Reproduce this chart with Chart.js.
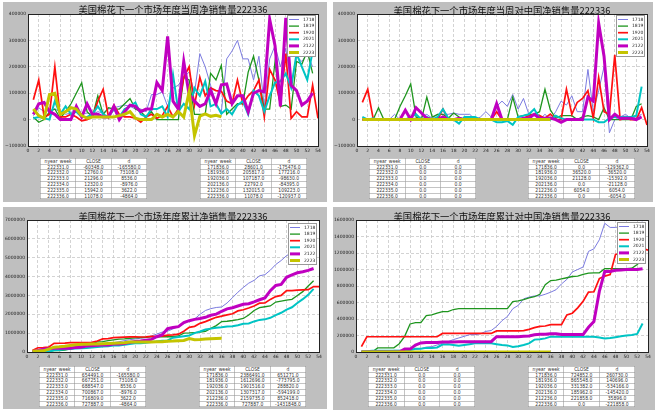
<!DOCTYPE html>
<html>
<head>
<meta charset="utf-8">
<script src="https://cdn.jsdelivr.net/npm/chart.js@4"></script>
<style>
body{margin:0;background:#fff;width:659px;height:415px;position:relative;overflow:hidden}
.panel{position:absolute;background:#bfbfbf}
canvas{position:absolute}
.title{position:absolute;width:320px;text-align:center;font:9.3px/12px "Noto Sans CJK SC",sans-serif;color:#111;white-space:nowrap}
.tbl{position:absolute;border-collapse:collapse;transform:scale(0.5);transform-origin:0 0;background:#fff;width:214px}
.tbl td{border:1px solid #888;font:9px "DejaVu Sans",sans-serif;color:#333;text-align:center;height:10.6px;line-height:10px;padding:0;width:71px}
</style>
</head>
<body>
<div class="panel" style="left:3px;top:2px;width:324px;height:200px"></div>
<div class="panel" style="left:333px;top:2px;width:320px;height:200px"></div>
<div class="panel" style="left:3px;top:207px;width:324px;height:202px"></div>
<div class="panel" style="left:333px;top:207px;width:322px;height:203px"></div>

<canvas id="c1" width="330" height="156" style="left:0;top:0"></canvas>
<canvas id="c2" width="329" height="156" style="left:330px;top:0"></canvas>
<canvas id="c3" width="330" height="157" style="left:0;top:205px"></canvas>
<canvas id="c4" width="329" height="157" style="left:330px;top:205px"></canvas>

<div class="title" style="left:13px;top:3px">美国棉花下一个市场年度当周净销售量222336</div>
<div class="title" style="left:342px;top:4px">美国棉花下一个市场年度当周对中国净销售量222336</div>
<div class="title" style="left:13px;top:210px">美国棉花下一个市场年度累计净销售量222336</div>
<div class="title" style="left:342px;top:210px">美国棉花下一个市场年度累计对中国净销售量222336</div>

<script>
const weeks = [1,2,3,4,5,6,7,8,9,10,11,12,13,14,15,16,17,18,19,20,21,22,23,24,25,26,27,28,29,30,31,32,33,34,35,36,37,38,39,40,41,42,43,44,45,46,47,48,49,50,51,52,53,54]
const years = ['1718', '1819', '1920', '2021', '2122', '2223']

// 当周净销售量
const w1718 = [15000,45000,30000,35000,40000,30000,20000,25000,50000,20000, 25000,20000,30000,25000,40000,45000,50000,55000,50000,40000, 40000,30000,95000,95000,105000,50000,120000,130000,160000,180000, 100000,250000,200000,130000,60000,28601,230000,260000,300000,230000, 230000,150000,240000,50000,230000,280000,200000,270000,130000,240000, 220000,250000,200000]
const w1819 = [10000,-10000,0,30000,40000,5000,30000,60000,100000,140000, 30000,10000,90000,20000,45000,40000,40000,60000,80000,40000, 30000,10000,30000,0,0,0,0,0,160000,150000, 20000,20000,20000,175000,150000,205817,20000,40000,60000,60000, 180000,240000,150000,40000,40000,220000,50000,55000,40000,220000, 210000,260000,175000]
const w1920 = [75000,150000,10000,20000,200000,10000,10000,20000,10000,-5000, 0,10000,70000,115000,10000,55000,20000,10000,10000,5000, -10000,10000,20000,5000,15000,50000,10000,40000,160000,200000, 55000,160000,90000,120000,110000,107187,70000,60000,150000,60000, 90000,110000,150000,10000,190000,150000,60000,250000,5000,30000, 10000,10000,130000,5000]
const w2021 = [5000,10000,5000,0,70000,20000,50000,20000,30000,10000, 10000,20000,50000,20000,10000,40000,10000,40000,50000,65000, 20000,10000,40000,40000,50000,10000,170000,30000,60000,40000, 120000,90000,145000,50000,60000,22792,40000,20000,55000,70000, 20000,110000,90000,30000,90000,140000,145000,175000,120000,250000, 200000,150000,260000]
const w2122 = [20000,60000,65000,30000,20000,0,0,0,50000,10000, 60000,20000,20000,10000,10000,50000,0,30000,55000,50000, 30000,40000,40000,140000,110000,315000,70000,40000,220000,95000, 70000,50000,60000,110000,60000,132015,135000,60000,90000,90000, 30000,100000,110000,105000,380000,280000,50000,385000,130000,110000, 55000,70000,100000]
const w2223 = [40000,15000,5000,95000,100000,20000,30000,45000,40000,15000, 5000,10000,10000,10000,10000,10000,15000,20000,30000,5000, 0,0,0,20000,10000,20000,10000,30000,10000,105232, -60348,12760,21296,12320,15942,11078]

// 当周对中国净销售量
const c1718 = [0,0,0,0,0,0,20000,0,0,5000, 5000,10000,20000,5000,20000,20000,20000,25000,20000,20000, 20000,0,10000,30000,10000,50000,70000,50000,95000,40000, 80000,20000,15000,0,20000,0,30000,70000,55000,90000, 30000,30000,190000,30000,110000,200000,-50000,0,10000,20000, 5000,10000,20000]
const c1819 = [0,0,0,45000,0,0,0,50000,90000,135000, 10000,0,85000,10000,20000,20000,5000,25000,10000,0, 0,0,0,0,0,0,0,0,85000,10000, 15000,20000,20000,30000,115000,36520,5000,15000,15000,15000, 0,10000,15000,10000,0,45000,0,0,0,0, 0,50000,60000]
const c1920 = [65000,115000,5000,0,0,0,0,0,0,0, 0,0,0,0,0,40000,0,0,0,0, 0,0,0,0,0,30000,0,0,0,0, 5000,15000,20000,15000,5000,21128,0,0,115000,20000, 65000,80000,110000,5000,160000,30000,20000,245000,0,5000, 0,0,45000,-20000]
const c2021 = [10000,0,5000,0,0,0,0,0,0,10000, 20000,0,10000,0,10000,40000,5000,0,-15000,10000, 10000,10000,0,0,0,-10000,-10000,-5000,-20000,10000, 15000,20000,40000,5000,5000,0,15000,5000,0,0, 0,0,0,0,-10000,-10000,5000,10000,10000,10000, 10000,15000,125000]
const c2122 = [0,0,0,0,0,0,0,0,35000,0, 45000,25000,5000,0,0,10000,0,0,5000,0, 0,0,0,0,0,60000,0,0,0,0, 5000,5000,20000,5000,5000,6054,0,-10000,0,0, 0,0,85000,70000,365000,240000,0,20000,5000,5000, 5000,0,10000]
const c2223 = [0,0,0,0,0,0,0,0,0,0, 0,0,0,0,0,0,0,0,0,0, 0,0,0,0,0,0,0,0,0,0, 0,0,0,0,0,0]

// 累计净销售量
const t1718 = [15000,60000,90000,125000,165000,195000,215000,240000,290000,310000, 335000,355000,385000,410000,450000,495000,545000,600000,650000,690000, 730000,760000,855000,950000,1055000,1105000,1225000,1355000,1515000,1650000, 1750000,2000000,2200000,2300000,2360000,2386491,2600000,2880000,3170000,3420000, 3650000,3800000,4040000,4100000,4340000,4640000,4850000,5110000,5260000,5500000, 5720000,5970000,6170000]
const t1819 = [10000,0,0,30000,70000,75000,105000,165000,265000,405000, 435000,445000,535000,555000,600000,640000,680000,700000,730000,750000, 770000,780000,800000,810000,810000,810000,810000,850000,1000000,1010000, 1030000,1050000,1100000,1250000,1400000,1612696,1630000,1670000,1720000,1780000, 1960000,2200000,2350000,2400000,2440000,2650000,2700000,2750000,2790000,3000000, 3200000,3500000,3780000]
const t1920 = [75000,225000,235000,255000,455000,465000,475000,495000,505000,500000, 500000,510000,580000,695000,705000,760000,780000,790000,800000,805000, 795000,805000,825000,830000,845000,895000,905000,945000,1105000,1305000, 1360000,1520000,1610000,1730000,1840000,1901516,1970000,2030000,2180000,2240000, 2330000,2440000,2590000,2600000,2790000,2940000,3000000,3250000,3255000,3285000, 3295000,3305000,3470000,3470000]
const t2021 = [5000,12000,17000,20000,90000,110000,145000,160000,180000,200000, 210000,240000,270000,290000,300000,340000,350000,390000,430000,460000, 470000,490000,530000,560000,600000,610000,760000,790000,840000,880000, 1000000,1090000,1190000,1240000,1290000,1307317,1347000,1367000,1422000,1492000, 1512000,1622000,1702000,1732000,1812000,1952000,2082000,2252000,2372000,2602000, 2802000,3030000,3350000]
const t2122 = [20000,80000,145000,175000,195000,195000,195000,195000,245000,255000, 315000,335000,355000,365000,375000,425000,425000,455000,510000,560000, 590000,630000,670000,810000,920000,1235000,1305000,1345000,1565000,1660000, 1730000,1780000,1840000,1950000,2010000,2159735,2290000,2350000,2440000,2530000, 2560000,2660000,2770000,2870000,3250000,3530000,3580000,3960000,4090000,4200000, 4260000,4330000,4430000]
const t2223 = [40000,55000,60000,155000,255000,275000,305000,350000,390000,405000, 410000,420000,430000,440000,450000,460000,475000,495000,525000,530000, 530000,530000,530000,540000,550000,570000,580000,600000,609607,714839, 654491,667251,688547,700867,716809,727887]

// 累计对中国净销售量
const h1718 = [0,0,0,0,0,0,20000,20000,20000,25000, 30000,40000,60000,65000,85000,105000,125000,150000,170000,190000, 210000,210000,220000,250000,260000,310000,380000,430000,525000,565000, 645000,665000,680000,680000,700000,724852,755000,825000,880000,970000, 1000000,1030000,1220000,1250000,1360000,1560000,1510000,1510000,1520000,1540000, 1545000,1555000,1575000]
const h1819 = [0,0,0,50000,50000,50000,50000,100000,190000,340000, 355000,355000,440000,450000,470000,490000,490000,515000,525000,525000, 525000,525000,525000,525000,525000,525000,525000,525000,610000,620000, 635000,655000,670000,700000,815000,865548,870000,885000,900000,915000, 920000,940000,955000,960000,960000,1010000,1010000,1010000,1010000,1010000, 1015000,1060000,1120000]
const h1920 = [65000,185000,185000,185000,185000,185000,185000,185000,185000,185000, 185000,185000,185000,185000,185000,225000,225000,225000,225000,225000, 225000,225000,225000,225000,225000,255000,255000,255000,255000,255000, 260000,275000,295000,310000,315000,331382,331382,331382,450000,470000, 535000,615000,725000,730000,890000,920000,940000,1185000,1185000,1190000, 1190000,1190000,1255000,1235000]
const h2021 = [10000,10000,15000,15000,15000,15000,15000,15000,15000,25000, 40000,40000,50000,50000,55000,90000,95000,85000,75000,85000, 95000,105000,105000,105000,105000,95000,85000,80000,60000,70000, 85000,105000,150000,155000,165000,185962,185962,185962,185962,185962, 185962,185962,185962,185962,175000,165000,170000,180000,190000,200000, 205000,220000,345000]
const h2122 = [0,0,0,0,0,0,0,0,35000,35000, 85000,110000,115000,115000,115000,120000,120000,120000,125000,125000, 125000,125000,125000,125000,125000,185000,185000,185000,185000,185000, 190000,195000,210000,215000,215000,221858,221858,211858,211858,211858, 211858,211858,300000,370000,735000,975000,975000,990000,995000,1000000, 1000000,1000000,1010000]
const h2223 = [0,0,0,0,0,0,0,0,0,0, 0,0,0,0,0,0,0,0,0,0, 0,0,0,0,0,0,0,0,0,0, 0,0,0,0,0,0]

// 表格
const tblHead = ['nyear_week', 'CLOSE', 'd']
const tbl1L = [['222331.0','-60348.0','-165580.0'],['222332.0','12760.0','73108.0'],['222333.0','21296.0','8536.0'],['222334.0','12320.0','-8976.0'],['222335.0','15942.0','3622.0'],['222336.0','11078.0','-4864.0']]
const tbl1R = [['171836.0','28601.0','-175476.0'],['181936.0','205817.0','177216.0'],['192036.0','107187.0','-98630.0'],['202136.0','22792.0','-84395.0'],['212236.0','132015.0','109223.0'],['222336.0','11078.0','-120937.0']]
const tbl2L = [['222331.0','0.0','0.0'],['222332.0','0.0','0.0'],['222333.0','0.0','0.0'],['222334.0','0.0','0.0'],['222335.0','0.0','0.0'],['222336.0','0.0','0.0']]
const tbl2R = [['171836.0','0.0','-129362.0'],['181936.0','36520.0','36520.0'],['192036.0','21128.0','-15392.0'],['202136.0','0.0','-21128.0'],['212236.0','6054.0','6054.0'],['222336.0','0.0','-6054.0']]
const tbl3L = [['222331.0','654491.0','-165580.0'],['222332.0','667251.0','73108.0'],['222333.0','688547.0','8536.0'],['222334.0','700867.0','-8976.0'],['222335.0','716809.0','3622.0'],['222336.0','727887.0','-4864.0']]
const tbl3R = [['171836.0','2386491.0','651271.0'],['181936.0','1612696.0','-773795.0'],['192036.0','1901516.0','288820.0'],['202136.0','1307317.0','-594199.0'],['212236.0','2159735.0','852418.0'],['222336.0','727887.0','-1431848.0']]
const tbl4L = [['222331.0','0.0','0.0'],['222332.0','0.0','0.0'],['222333.0','0.0','0.0'],['222334.0','0.0','0.0'],['222335.0','0.0','0.0'],['222336.0','0.0','0.0']]
const tbl4R = [['171836.0','724852.0','260730.0'],['181936.0','865548.0','140696.0'],['192036.0','331382.0','-534166.0'],['202136.0','185962.0','-145420.0'],['212236.0','221858.0','35896.0'],['222336.0','0.0','-221858.0']]

const cores = ['#7b7be0', '#1e951e', '#ff1010', '#00c4c4', '#c000c0', '#c4c400']
const larguras = [1, 1.3, 1.7, 2, 3, 3]

// fundo branco, moldura e legenda dentro do gráfico
const molduraPlugin = {
    id: 'moldura',
    beforeDraw(chart) {
        const a = chart.chartArea, ctx = chart.ctx
        ctx.save()
        ctx.fillStyle = '#fff'
        ctx.fillRect(a.left, a.top, a.right - a.left, a.bottom - a.top)
        ctx.restore()
    },
    afterDatasetsDraw(chart) {
        const a = chart.chartArea, ctx = chart.ctx
        ctx.save()
        ctx.strokeStyle = '#222'
        ctx.lineWidth = 1
        ctx.strokeRect(Math.round(a.left) + 0.5, Math.round(a.top) + 0.5, Math.round(a.right - a.left), Math.round(a.bottom - a.top))

        const off = chart.options.plugins.moldura.top
        const bw = 28, bh = 41
        const bx = Math.round(a.right) - 3 - bw, by = Math.round(a.top) + off
        ctx.fillStyle = '#fff'
        ctx.fillRect(bx, by, bw, bh)
        ctx.strokeStyle = '#999'
        ctx.strokeRect(bx + 0.5, by + 0.5, bw, bh)
        ctx.font = '4.5px "DejaVu Sans"'
        ctx.textBaseline = 'middle'
        chart.data.datasets.forEach((ds, i) => {
            const y = by + 4.5 + i * 6.6
            ctx.strokeStyle = ds.borderColor
            ctx.lineWidth = ds.borderWidth
            ctx.beginPath()
            ctx.moveTo(bx + 2, y)
            ctx.lineTo(bx + 12, y)
            ctx.stroke()
            ctx.fillStyle = '#222'
            ctx.fillText(ds.label, bx + 16, y)
        })
        ctx.restore()
    }
}

function montarGrafico(id, series, ymin, ymax, ystep, pad, ylarg, legTop) {
    const datasets = series.map((vals, i) => ({
        label: years[i],
        data: vals.map((v, j) => ({ x: weeks[j], y: v })),
        borderColor: cores[i],
        borderWidth: larguras[i],
        pointRadius: 0,
        tension: 0,
        fill: false,
        order: series.length - i
    }))

    new Chart(document.getElementById(id), {
        type: 'line',
        data: { datasets: datasets },
        plugins: [molduraPlugin],
        options: {
            responsive: false,
            animation: false,
            devicePixelRatio: 1,
            events: [],
            layout: { padding: pad },
            scales: {
                x: {
                    type: 'linear',
                    min: 0,
                    max: 54,
                    afterFit: s => { s.height = 10 },
                    ticks: {
                        stepSize: 2,
                        autoSkip: false,
                        maxRotation: 0,
                        padding: 2,
                        color: '#222',
                        font: { size: 4.5, family: 'DejaVu Sans' }
                    },
                    grid: { color: '#c8c8c8', lineWidth: 0.8, drawTicks: false },
                    border: { display: false, dash: [3, 2] }
                },
                y: {
                    min: ymin,
                    max: ymax,
                    afterFit: s => { s.width = ylarg },
                    ticks: {
                        stepSize: ystep,
                        padding: 2,
                        color: '#222',
                        font: { size: 4.5, family: 'DejaVu Sans' },
                        callback: v => String(v).replace('-', '\u2212')
                    },
                    grid: { color: '#c8c8c8', lineWidth: 0.8, drawTicks: false },
                    border: { display: false, dash: [3, 2] }
                }
            },
            plugins: {
                legend: { display: false },
                tooltip: { enabled: false },
                moldura: { top: legTop }
            }
        }
    })
}

function montarTabela(linhas, x, y) {
    const t = document.createElement('table')
    t.className = 'tbl'
    t.style.left = x + 'px'
    t.style.top = y + 'px'
    ;[tblHead].concat(linhas).forEach(l => {
        const tr = document.createElement('tr')
        l.forEach(c => {
            const td = document.createElement('td')
            td.textContent = c
            tr.appendChild(td)
        })
        t.appendChild(tr)
    })
    document.body.appendChild(t)
}

montarGrafico('c1', [w1718, w1819, w1920, w2021, w2122, w2223], -100000, 400000, 100000, { top: 14, right: 12, left: 0, bottom: 0 }, 28, 1)
montarGrafico('c2', [c1718, c1819, c1920, c2021, c2122, c2223], -100000, 400000, 100000, { top: 14, right: 12, left: 0, bottom: 0 }, 27, 1)
montarGrafico('c3', [t1718, t1819, t1920, t2021, t2122, t2223], 0, 7000000, 1000000, { top: 15, right: 11, left: 0, bottom: 0 }, 27, 3)
montarGrafico('c4', [h1718, h1819, h1920, h2021, h2122, h2223], 0, 1600000, 200000, { top: 15, right: 11, left: 0, bottom: 0 }, 26, 2)

montarTabela(tbl1L, 40, 158)
montarTabela(tbl1R, 200, 158)
montarTabela(tbl2L, 369, 158)
montarTabela(tbl2R, 528, 158)
montarTabela(tbl3L, 39, 366)
montarTabela(tbl3R, 199, 366)
montarTabela(tbl4L, 368, 366)
montarTabela(tbl4R, 528, 366)
</script>
</body>
</html>
